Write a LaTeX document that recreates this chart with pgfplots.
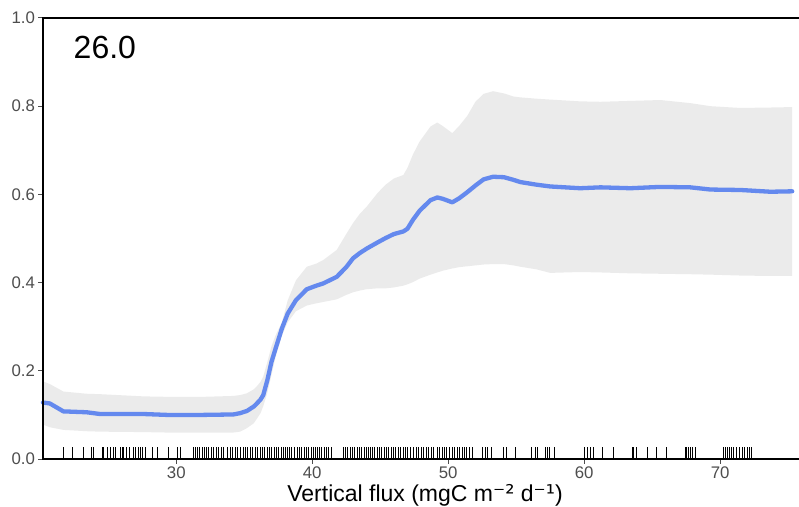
\documentclass[border=0pt]{standalone}
\usepackage{pgfplots}
\pgfplotsset{compat=1.18}
\usepackage{pgfplotstable}
\usepgfplotslibrary{fillbetween}
\usepackage{fontspec}
\setmainfont{Liberation Sans}
\newfontfamily\djv{DejaVu Sans}
\definecolor{ticktxt}{RGB}{77,77,77}
\definecolor{ribbon}{RGB}{235,235,235}
\definecolor{fitline}{RGB}{100,137,238}

\pgfplotstableread{
x     fit    up     lo
20.2  0.128  0.176  0.078
20.7  0.126  0.170  0.072
21.7  0.108  0.153  0.066
23.4  0.106  0.148  0.063
24.4  0.102  0.147  0.062
27.6  0.102  0.142  0.061
29.3  0.100  0.141  0.060
32.0  0.100  0.141  0.060
34.2  0.101  0.143  0.060
34.7  0.104  0.145  0.062
35.2  0.109  0.149  0.070
35.7  0.119  0.158  0.081
35.9  0.125  0.164  0.090
36.2  0.135  0.175  0.104
36.4  0.145  0.187  0.120
36.7  0.179  0.220  0.150
37.0  0.220  0.255  0.190
37.3  0.250  0.280  0.230
37.77 0.296  0.310  0.280
38.2  0.330  0.360  0.310
38.8  0.360  0.405  0.335
39.6  0.385  0.436  0.348
40.3  0.393  0.443  0.353
40.8  0.398  0.451  0.356
41.8  0.413  0.474  0.362
42.5  0.435  0.510  0.372
43.0  0.455  0.535  0.378
43.5  0.467  0.556  0.382
44.0  0.477  0.572  0.385
44.8  0.491  0.603  0.387
45.4  0.501  0.622  0.387
46.0  0.510  0.636  0.389
46.7  0.516  0.644  0.393
47.0  0.522  0.660  0.396
47.4  0.542  0.690  0.401
47.9  0.563  0.720  0.409
48.7  0.587  0.754  0.418
49.2  0.593  0.763  0.423
49.6  0.590  0.755  0.427
50.3  0.582  0.739  0.432
50.8  0.591  0.755  0.435
51.4  0.605  0.778  0.437
52.0  0.620  0.810  0.439
52.6  0.634  0.828  0.441
53.3  0.640  0.834  0.442
54.1  0.639  0.829  0.442
54.8  0.633  0.822  0.439
55.3  0.628  0.820  0.436
56.5  0.622  0.817  0.430
57.5  0.618  0.815  0.422
59.7  0.614  0.811  0.424
61.2  0.616  0.810  0.423
63.4  0.614  0.812  0.421
65.6  0.617  0.814  0.420
67.8  0.616  0.807  0.419
69.3  0.611  0.800  0.418
71.5  0.610  0.796  0.416
73.7  0.606  0.797  0.415
75.3  0.607  0.798  0.415
}\pdpdata

\begin{document}
\begin{tikzpicture}
\begin{axis}[
  scale only axis,
  width=756pt, height=441pt,
  xmin=20.2, xmax=75.8, ymin=0, ymax=1,
  axis line style={draw=none},
  xtick={30,40,50,60,70},
  ytick={0,0.2,0.4,0.6,0.8,1.0},
  xtick pos=bottom, ytick pos=left,
  tick align=outside,
  major tick length=4.5pt,
  every tick/.style={ticktxt, line width=1pt},
  /pgf/number format/assume math mode=true,
  ticklabel style={font=\fontsize{16.8}{16.8}\selectfont, text=ticktxt},
  yticklabel style={/pgf/number format/fixed, /pgf/number format/fixed zerofill, /pgf/number format/precision=1},
  xlabel={Vertical flux (mgC m{\djv ⁻²} d{\djv ⁻¹})},
  xlabel style={font=\fontsize{23}{23}\selectfont, text=black, yshift=1.5pt, xshift=4pt},
  clip=false,
]
\addplot[name path=U, draw=none] table[x=x, y=up] {\pdpdata};
\addplot[name path=L, draw=none] table[x=x, y=lo] {\pdpdata};
\addplot[fill=ribbon, draw=none] fill between[of=U and L];
\addplot[ycomb, black, line width=0.7pt, mark=none] coordinates {
(21.67,0.027) (22.33,0.027) (23.18,0.027) (23.73,0.027) (23.92,0.027) (24.54,0.027) (24.65,0.027) (24.90,0.027) (25.15,0.027) (25.35,0.027) (25.51,0.027) (25.88,0.027) (26.01,0.027) (26.13,0.027) (26.32,0.027) (26.57,0.027) (26.86,0.027) (26.99,0.027) (27.23,0.027) (27.35,0.027) (27.48,0.027) (27.72,0.027) (28.21,0.027) (28.58,0.027) (29.43,0.027) (30.05,0.027) (30.29,0.027)
(31.27,0.027) (31.40,0.027) (31.52,0.027) (31.71,0.027) (31.89,0.027) (32.06,0.027) (32.21,0.027) (32.38,0.027) (32.55,0.027) (32.74,0.027) (32.94,0.027) (33.11,0.027) (33.29,0.027) (33.48,0.027) (33.73,0.027) (33.97,0.027) (34.14,0.027) (34.34,0.027) (34.51,0.027) (34.71,0.027) (34.90,0.027) (35.07,0.027) (35.24,0.027) (35.44,0.027) (35.61,0.027) (35.81,0.027) (35.98,0.027) (36.18,0.027)
(36.35,0.027) (36.50,0.027) (36.70,0.027) (36.85,0.027) (37.00,0.027) (37.20,0.027) (37.35,0.027) (37.50,0.027) (37.70,0.027) (37.85,0.027) (38.00,0.027) (38.20,0.027) (38.35,0.027) (38.50,0.027) (38.70,0.027) (38.90,0.027) (39.05,0.027) (39.20,0.027) (39.40,0.027) (39.55,0.027) (39.70,0.027) (39.90,0.027) (40.05,0.027) (40.20,0.027) (40.40,0.027) (40.55,0.027) (40.70,0.027) (40.90,0.027) (41.05,0.027) (41.20,0.027) (41.40,0.027)
(42.30,0.027) (42.45,0.027) (42.60,0.027) (42.80,0.027) (42.95,0.027) (43.10,0.027) (43.30,0.027) (43.45,0.027) (43.60,0.027) (43.80,0.027) (43.95,0.027) (44.10,0.027) (44.30,0.027) (44.45,0.027) (44.60,0.027) (44.80,0.027) (44.95,0.027) (45.10,0.027) (45.30,0.027) (45.45,0.027) (45.60,0.027) (45.80,0.027) (45.95,0.027) (46.10,0.027) (46.30,0.027)
(46.47,0.027) (46.67,0.027) (46.84,0.027) (47.01,0.027) (47.21,0.027) (47.45,0.027) (47.65,0.027) (47.82,0.027) (47.99,0.027) (48.18,0.027) (48.38,0.027) (48.55,0.027) (48.73,0.027) (48.92,0.027) (49.17,0.027) (49.36,0.027) (49.54,0.027) (49.71,0.027) (49.90,0.027) (50.10,0.027) (50.27,0.027) (50.44,0.027) (50.64,0.027) (50.83,0.027) (51.01,0.027) (51.18,0.027) (51.37,0.027) (51.57,0.027) (51.74,0.027)
(52.48,0.027) (52.72,0.027) (52.89,0.027) (53.14,0.027) (54.02,0.027) (54.26,0.027) (54.93,0.027) (56.15,0.027) (56.40,0.027) (56.57,0.027) (57.13,0.027) (57.26,0.027) (57.45,0.027) (57.79,0.027) (60.00,0.027) (60.24,0.027) (60.44,0.027) (60.64,0.027) (61.30,0.027) (62.16,0.027) (63.51,0.027) (63.62,0.027) (63.82,0.027) (64.61,0.027) (65.34,0.027) (66.03,0.027)
(67.43,0.027) (67.55,0.027) (67.67,0.027) (67.79,0.027) (67.99,0.027) (68.16,0.027) (70.20,0.027) (70.40,0.027) (70.55,0.027) (70.70,0.027) (70.85,0.027) (71.00,0.027) (71.20,0.027) (71.40,0.027) (71.60,0.027) (71.80,0.027) (72.00,0.027) (72.15,0.027) (72.33,0.027)
};
\addplot[fitline, line width=4.3pt, line join=round, line cap=round] table[x=x, y=fit] {\pdpdata};
\draw[black, line width=2.4pt, line cap=rect] (rel axis cs:1,0) -- (rel axis cs:0,0) -- (rel axis cs:0,1) -- (rel axis cs:1,1);
\node[anchor=west, font=\fontsize{32}{32}\selectfont] at (rel axis cs:0.036,0.932) {26.0};
\end{axis}
\pgfresetboundingbox
\useasboundingbox (-43pt,-47pt) rectangle (756pt,459pt);
\end{tikzpicture}
\end{document}
